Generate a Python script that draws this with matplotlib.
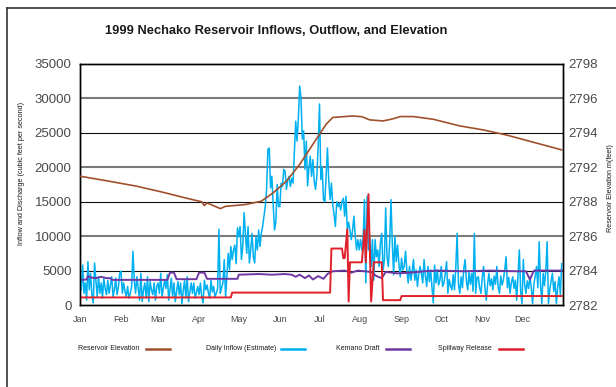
import matplotlib.pyplot as plt
from matplotlib.lines import Line2D
import numpy as np

plt.rcParams['font.family'] = ['Liberation Sans', 'DejaVu Sans']

months = ['Jan', 'Feb', 'Mar', 'Apr', 'May', 'Jun',
          'Jul', 'Aug', 'Sep', 'Oct', 'Nov', 'Dec']
month_start = [0, 31, 59, 90, 120, 151, 181, 212, 243, 273, 304, 334]

# daily inflow estimate (cfs), one list per month
inflow_jan = [3900, 2200, 5800, 1700, 3200, 700, 6300, 2200, 4600, 1500, 300,
              6100, 3600, 1200, 4100, 1700, 3200, 1000, 3900, 2400, 1500, 3600,
              1700, 2900, 4100, 1200, 2200, 3900, 1500, 2600, 4600]
inflow_feb = [4900, 1700, 3200, 2000, 1200, 2700, 1000, 1700, 2600, 7800, 3600,
              1700, 4100, 2400, 700, 4600, 500, 2200, 3200, 1000, 4100, 500,
              3400, 2200, 1500, 3200, 700, 2700]
inflow_mar = [3200, 1700, 4600, 1200, 2500, 3600, 2400, 4400, 700, 2200, 3900,
              1200, 3200, 500, 2000, 3400, 1500, 3200, 200, 2000, 3600, 1000,
              4100, 500, 1800, 3200, 1700, 3200, 1000, 1800, 2700]
inflow_apr = [1500, 3200, 1200, 300, 3600, 2200, 2900, 1800, 1000, 3600, 1900,
              2700, 1200, 1700, 2400, 11000, 1700, 2500, 3200, 6600, 1200, 4100,
              7500, 5100, 8500, 6600, 8000, 8700, 6000, 11200]
inflow_may = [9900, 11400, 6600, 8500, 13400, 10400, 7500, 11400, 6100, 8000,
              10400, 7000, 6100, 9900, 8000, 10900, 8500, 10400, 11400, 12900,
              14300, 16800, 22600, 22800, 17000, 18700, 14500, 10900, 12100,
              17500, 14300]
inflow_jun = [14300, 17700, 17200, 19700, 19400, 16800, 18200, 18700, 17200,
              18400, 17700, 22100, 26700, 23800, 27000, 31800, 30100, 24100,
              25300, 19700, 23800, 17300, 19900, 21600, 18700, 21100, 18000,
              16800, 18700, 23100]
inflow_jul = [29200, 18200, 20000, 15300, 15000, 18700, 22800, 18000, 15300,
              17700, 14600, 13100, 11400, 15000, 14300, 14800, 13800, 15000,
              15500, 12900, 15800, 10900, 12000, 10900, 9500, 10900, 12900,
              10000, 8000, 9500, 8000]
inflow_aug = [9500, 8000, 10000, 15300, 3200, 15800, 8000, 9700, 5600, 9500,
              3600, 9500, 7000, 8000, 5600, 9000, 10400, 5100, 6500, 14100,
              7000, 5600, 9000, 15300, 9000, 4400, 10000, 6300, 8700, 6000, 4100]
inflow_sep = [6800, 5100, 5600, 7800, 5000, 3200, 5600, 3600, 4800, 6600, 3600,
              5100, 2700, 4500, 5600, 4600, 3200, 6600, 4200, 2700, 5600, 3400,
              5100, 2500, 300, 5800, 3200, 5100, 2900, 3600]
inflow_oct = [5600, 2700, 3200, 4500, 6300, 1700, 3700, 2800, 2200, 4400, 2200,
              5600, 10400, 3000, 1700, 4100, 2500, 5200, 6600, 3500, 2200, 4800,
              3000, 4600, 2000, 10400, 1700, 4000, 4100, 2500, 1700]
inflow_nov = [4000, 5600, 2500, 700, 3000, 4600, 2800, 3800, 2200, 4200, 3000,
              5600, 2600, 1700, 4200, 2900, 3700, 5200, 7000, 2500, 4000, 1700,
              3300, 4100, 2400, 3600, 700, 4300, 8000, 2000]
inflow_dec = [200, 6600, 3000, 1700, 3500, 2400, 4100, 2600, 200, 3000, 4200,
              5600, 2500, 9200, 3000, 200, 4600, 2800, 5000, 9200, 200, 2200,
              3500, 4600, 2000, 3400, 200, 2600, 4100, 1500, 6000]

# Kemano draft (cfs) at the days where it changes
kemano_days = [0, 5, 6, 8, 12, 16, 20, 23, 24, 66, 68, 71, 73, 88, 90, 94, 96,
               119, 120, 135, 145, 155, 160, 163, 166, 170, 173, 176, 180, 184,
               187, 191, 200, 205, 210, 220, 224, 228, 231, 240, 250, 260, 270,
               290, 310, 330, 337, 340, 343, 364]
kemano_cfs = [3650, 3700, 4200, 4000, 3900, 4100, 3900, 3900, 3650, 3650, 4700,
              4700, 3750, 3750, 4700, 4700, 3800, 3800, 4400, 4500, 4400, 4500,
              4400, 4100, 4400, 3900, 4300, 3700, 4200, 3800, 4500, 4900, 5000,
              4700, 5000, 4800, 4200, 3900, 4800, 4600, 4700, 4900, 5000, 4900,
              5000, 4900, 4900, 3700, 5000, 5000]

# spillway release (cfs)
spill_days = [0, 114, 115, 189, 190, 198, 199, 200, 202, 203, 204, 213, 215,
              216, 218, 220, 222, 228, 229, 242, 243, 364]
spill_cfs = [1100, 1100, 1800, 1800, 8200, 8200, 6800, 6800, 11000, 500, 6200,
             6200, 10900, 6200, 16100, 500, 6200, 6200, 700, 700, 1300, 1300]

# reservoir elevation (feet)
elev_days = [0, 20, 42, 62, 80, 92, 94, 96, 106, 110, 125, 137, 146, 156, 166,
             176, 186, 191, 197, 206, 213, 219, 229, 236, 242, 252, 267, 287,
             305, 323, 342, 364]
elev_ft = [2790.55, 2790.25, 2789.9, 2789.5, 2789.1, 2788.85, 2788.6, 2788.78,
           2788.4, 2788.55, 2788.67, 2788.89, 2789.45, 2790.22, 2791.33,
           2792.67, 2794.0, 2794.45, 2794.49, 2794.55, 2794.5, 2794.29,
           2794.22, 2794.35, 2794.51, 2794.51, 2794.33, 2793.89, 2793.62,
           2793.27, 2792.82, 2792.3]

left_ticks = [0, 5000, 10000, 15000, 20000, 25000, 30000, 35000]
right_labels = ['2782', '2784', '2786', '2788', '2792', '2794', '2796', '2798']

daily_inflow = (inflow_jan + inflow_feb + inflow_mar + inflow_apr + inflow_may
                + inflow_jun + inflow_jul + inflow_aug + inflow_sep
                + inflow_oct + inflow_nov + inflow_dec)
days = np.arange(len(daily_inflow))

c_elev = '#a0502d'
c_inflow = '#00b0f0'
c_kemano = '#7038a4'
c_spill = '#e0202a'
tick_color = '#4a4a4a'
text_color = '#1a1a1a'

W, H = 616, 387
fig = plt.figure(figsize=(W / 100, H / 100), dpi=100)
ax = fig.add_axes([80 / W, 1 - 305 / H, 483 / W, 241 / H])

# horizontal grid, drawn by hand so the weights alternate
for i, v in enumerate(left_ticks[1:-1]):
    if i % 2 == 0:
        ax.axhline(v, color='#111111', lw=0.8, zorder=1)
    else:
        ax.axhline(v, color='#7a7a7a', lw=1.5, zorder=1)

ax.plot(days, daily_inflow, color=c_inflow, lw=1.1, zorder=3)
ax.plot(kemano_days, kemano_cfs, color=c_kemano, lw=1.4, zorder=4)
ax.plot(spill_days, spill_cfs, color=c_spill, lw=1.4, zorder=5)

ax.set_xlim(0, 365)
ax.set_ylim(0, 35000)
ax.set_yticks(left_ticks)
ax.set_yticklabels([str(v) for v in left_ticks])
ax.set_xticks(month_start)
ax.set_xticklabels(months)
ax.tick_params(axis='y', length=0, pad=6, labelsize=9.5, labelcolor=tick_color)
ax.tick_params(axis='x', length=0, pad=7, labelsize=6.5, labelcolor=tick_color)
for s in ax.spines.values():
    s.set_color('black')
    s.set_linewidth(1.0)

ax2 = ax.twinx()
ax2.plot(elev_days, elev_ft, color=c_elev, lw=1.2, zorder=6)
ax2.set_ylim(2782, 2798)
ax2.set_yticks(np.linspace(2782, 2798, len(right_labels)))
ax2.set_yticklabels(right_labels)
ax2.tick_params(axis='y', length=0, pad=4, labelsize=9.5, labelcolor=tick_color)
for s in ax2.spines.values():
    s.set_color('black')
    s.set_linewidth(1.0)

fig.text(276 / W, 1 - 31 / H,
         '1999 Nechako Reservoir Inflows, Outflow, and Elevation',
         ha='center', va='center', fontsize=9.3, fontweight='bold',
         color='#1a1a1a')
fig.text(22 / W, 1 - 173 / H, 'Inflow and Discharge (cubic feet per second)',
         rotation=90, ha='center', va='center', fontsize=5.2,
         color=text_color)
fig.text(611 / W, 1 - 188 / H, 'Reservoir Elevation m(feet)',
         rotation=90, ha='center', va='center', fontsize=5.2,
         color=text_color)

# legend row under the plot: label first, then its line sample
legend_items = [('Reservoir Elevation', c_elev, 78, 146),
                ('Daily Inflow (Estimate)', c_inflow, 206, 281),
                ('Kemano Draft', c_kemano, 336, 386),
                ('Spillway Release', c_spill, 438, 499)]
ly = 1 - 349 / H
for label, color, tx, lx in legend_items:
    fig.text(tx / W, ly, label, ha='left', va='center', fontsize=5,
             color=text_color)
    fig.add_artist(Line2D([lx / W, (lx + 24) / W], [ly, ly], color=color,
                          lw=1.8, transform=fig.transFigure))

# outer frame, left and top edges
fig.add_artist(Line2D([7 / W, 7 / W], [0, 1 - 8 / H], color='#333333',
                      lw=1.2, transform=fig.transFigure))
fig.add_artist(Line2D([7 / W, 1], [1 - 8 / H, 1 - 8 / H], color='#333333',
                      lw=1.2, transform=fig.transFigure))

fig.savefig('out.png', dpi=100)
